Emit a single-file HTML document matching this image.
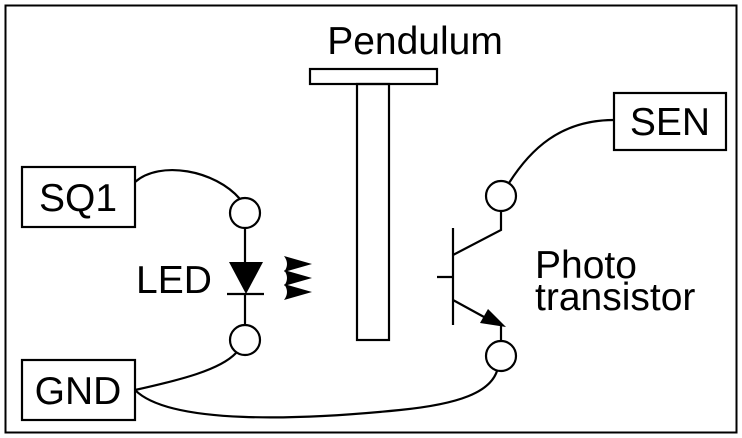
<!DOCTYPE html>
<html><head><style>body{margin:0;background:#fff}svg{display:block}</style></head><body>
<svg width="742" height="438" viewBox="0 0 742 438" xmlns="http://www.w3.org/2000/svg" font-family="Liberation Sans, sans-serif">
<rect x="5.5" y="5.5" width="731" height="427" fill="none" stroke="#000" stroke-width="2"/>
<g fill="none" stroke="#000" stroke-width="2.2">
<rect x="22" y="167" width="113" height="60"/>
<rect x="22" y="360" width="113" height="60"/>
<rect x="614" y="93" width="112" height="57"/>
<rect x="310" y="69" width="127" height="15"/>
<rect x="357" y="84" width="32" height="256"/>
<circle cx="245" cy="213" r="15"/>
<circle cx="245" cy="340" r="15"/>
<circle cx="501" cy="196" r="15"/>
<circle cx="501" cy="356" r="15"/>
<path d="M135 182 C160 160 215 170 240 199"/>
<path d="M614 120 C560 120 530 150 509 183"/>
<path d="M135 390 C180 380 220 370 236 353"/>
<path d="M135 390 C170 425 300 420 400 410 C460 404 490 392 497 371"/>
<path d="M245 228 V262 M245 294 V325 M227 294 H264"/>
<path d="M453 228 V325 M437 277 H453 M453 255 L501 230 V211 M453 300 L495 323 M501 326 V341"/>
</g>
<polygon points="229,262 263,262 246,294" fill="#000"/>
<polygon points="506,327 480,323 488,309" fill="#000"/>
<g fill="#000">
<path d="M284 256 Q290 264 284 272 L312 264 Z"/>
<path d="M284 270 Q290 278 284 286 L312 278 Z"/>
<path d="M284 284 Q290 292 284 300 L312 292 Z"/>
</g>
<g font-size="39" fill="#000">
<text x="415" y="54" text-anchor="middle">Pendulum</text>
<text x="78" y="211" text-anchor="middle">SQ1</text>
<text x="78" y="404" text-anchor="middle">GND</text>
<text x="670" y="135" text-anchor="middle">SEN</text>
<text x="136" y="293">LED</text>
<text x="535" y="278">Photo</text>
<text x="535" y="310">transistor</text>
</g>
</svg>
</body></html>
